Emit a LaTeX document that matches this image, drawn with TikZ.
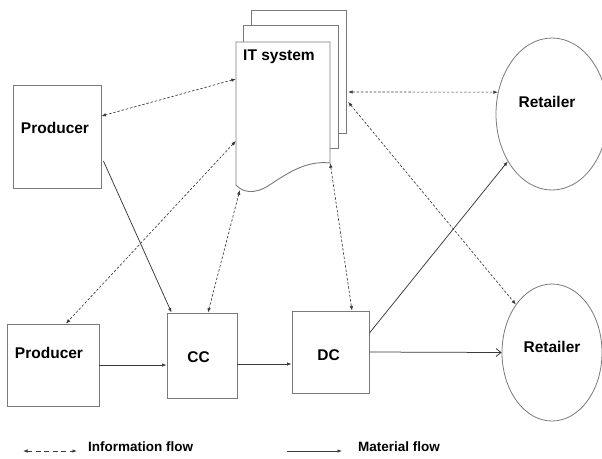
\documentclass[tikz,border=0pt]{standalone}
\usepackage{fontspec}
\setmainfont{Liberation Sans}
\usetikzlibrary{arrows.meta,calc,shapes.geometric}
\definecolor{boxgray}{HTML}{7A7A7A}
\definecolor{linegray}{HTML}{3A3A3A}
\begin{document}
\begin{tikzpicture}[x=1pt,y=-1pt,
  lbl/.style={font=\fontsize{15.5}{18}\selectfont\bfseries, text=black, inner sep=0pt},
  lgd/.style={font=\fontsize{13.5}{16}\selectfont\bfseries, text=black, inner sep=0pt},
  box/.style={draw=boxgray, line width=0.9pt, fill=white, rectangle, inner sep=0pt},
  ell/.style={draw=boxgray, line width=0.8pt, fill=white, ellipse, inner sep=0pt},
  docline/.style={draw=boxgray, line width=0.9pt, fill=white},
  tipL/.tip={Latex[length=4.5pt,width=3.5pt]},
  mat/.style={draw=linegray, line width=0.75pt, -tipL},
  matopen/.style={draw=linegray, line width=0.75pt, -{Straight Barb[length=5pt,width=8pt]}},
  info/.style={draw=linegray, line width=0.65pt, dash pattern=on 2.5pt off 1.8pt, tipL-tipL},
  infolgd/.style={info, line width=0.8pt, dash pattern=on 5pt off 3.5pt}]
\clip (0,0) rectangle (602,458);
\fill[white] (0,0) rectangle (602,458);

% boxes
\node[box, minimum width=88pt, minimum height=103pt,
  label={[lbl,xshift=-2pt,yshift=8.5pt]center:Producer}] (P1) at (57,136.5) {};
\node[box, minimum width=92pt, minimum height=82pt,
  label={[lbl,xshift=-4pt,yshift=12pt]center:Producer}] (P2) at (53,365) {};
\node[box, minimum width=70pt, minimum height=85pt,
  label={[lbl,xshift=-3.5pt,yshift=-1.5pt]center:CC}] (CC) at (202,355.5) {};
\node[box, minimum width=77pt, minimum height=82pt,
  label={[lbl,xshift=-2pt,yshift=-3pt]center:DC}] (DC) at (330.5,352) {};
\node[ell, minimum width=112pt, minimum height=152pt,
  label={[lbl,xshift=-5pt,yshift=12pt]center:Retailer}] (R1) at (552,114) {};
\node[ell, minimum width=100pt, minimum height=137pt,
  label={[lbl,yshift=5.5pt]center:Retailer}] (R2) at (552,352.5) {};

% IT system (stacked documents)
\draw[docline] (251,10) rectangle (346,133);
\draw[docline] (243,25) rectangle (338,148);
\draw[docline] (236,42) -- (330,42) -- (330,163)
  .. controls (305,160) and (285,175) .. (268,186)
  .. controls (255,194) and (243,193) .. (236,185) -- cycle;
\node[inner sep=0pt, minimum width=95pt, minimum height=123pt] (itb) at (298.5,71.5) {};
\node[inner sep=0pt, minimum width=94pt, minimum height=145pt] (itf) at (283,114.5) {};
\node[lbl, anchor=base west] (itt) at (243,60) {IT system};

% material flow
\draw[mat] ($(P1.east)+(2,24.5)$) -- ($(CC.north west)+(5,0)$);
\draw[mat] (P2.east) -- (P2.east -| CC.west);
\draw[mat] ($(CC.east)+(0,8.5)$) -- ($(DC.west)+(0,12)$);
\draw[matopen] (DC.east) -- (R2.west);
\draw[mat] ($(DC.east)+(0,-19)$) -- (R1.-133);

% information flow
\draw[info] ($(itf.west)+(0,-35.5)$) -- ($(P1.east)+(0,-20.5)$);
\draw[info] ($(itf.west)+(0,26.5)$) -- ($(P2.north)+(13,0)$);
\draw[info] ($(itf.south west)+(4,3)$) -- ($(CC.north)+(6,0)$);
\draw[info] ($(itf.south east)+(0,-24)$) -- ($(DC.north)+(21.5,0)$);
\draw[info] ($(itb.east)+(2,20.5)$) -- (R1.158);
\draw[info] ($(itb.east)+(2,30.5)$) -- (R2.127);

% legend
\coordinate (li1) at (23,451);
\coordinate (li2) at (77,451);
\draw[infolgd] (li1) -- (li2);
\node[lgd, anchor=west] (lit) at (88,447) {Information flow};
\coordinate (lm1) at (287,451);
\coordinate (lm2) at (342,451);
\draw[mat] (lm1) -- (lm2);
\node[lgd, anchor=west] (lmt) at (358,447) {Material flow};
\end{tikzpicture}
\end{document}
